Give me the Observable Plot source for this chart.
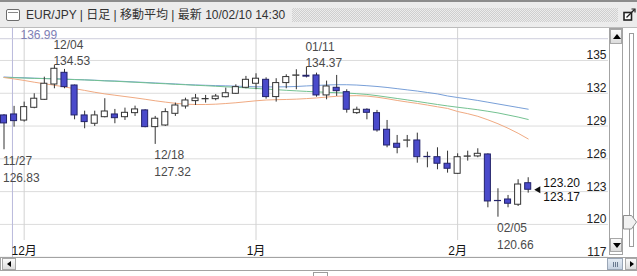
<!DOCTYPE html>
<html><head><meta charset="utf-8">
<script src="https://cdn.jsdelivr.net/npm/d3@7"></script>
<script src="https://cdn.jsdelivr.net/npm/@observablehq/plot@0.6"></script>
<style>
html,body{margin:0;padding:0;background:#fff;}
#wrap{position:relative;width:637px;height:276px;overflow:hidden;background:#fff;font-family:"Liberation Sans","Noto Sans CJK JP",sans-serif;}
#chart{position:absolute;left:0;top:0;}
.abs{position:absolute;box-sizing:border-box;}
#titlebar{left:0;top:0;width:637px;height:28px;background:#ececec;border-top:2px solid #8c8c8c;border-bottom:1px solid #bcbcbc;}
#title{left:26px;top:8px;font-size:12px;line-height:14px;color:#333;white-space:nowrap;}
#icon{left:6px;top:9px;width:14px;height:12px;border:1px solid #6c6c6c;border-radius:2px;background:#fff;}
#icon:after{content:"";position:absolute;left:1px;right:1px;top:2px;height:0;border-top:1px solid #8a8a8a;}
#dots{left:292px;top:8px;width:326px;height:14px;background:repeating-conic-gradient(#cfcfcf 0 25%,#ececec 0 50%) 0 0/2px 2px;}
#vscroll{left:609px;top:28px;width:14px;height:227px;border:1px solid #a3a3a3;background:#fff;}
.btn{background:linear-gradient(#fbfbfb,#dcdcdc);border:1px solid #a8a8a8;}
.tri-up{width:0;height:0;border-left:4px solid transparent;border-right:4px solid transparent;border-bottom:5px solid #000;}
.tri-dn{width:0;height:0;border-left:4px solid transparent;border-right:4px solid transparent;border-top:5px solid #000;}
.tri-l{width:0;height:0;border-top:3px solid transparent;border-bottom:3px solid transparent;border-right:4px solid #000;}
.tri-r{width:0;height:0;border-top:3px solid transparent;border-bottom:3px solid transparent;border-left:4px solid #000;}
#track{left:629px;top:33px;width:5px;height:214px;border:1px solid #9c9c9c;background:#fff;}
#hscroll{left:0;top:257px;width:637px;height:14px;border:1px solid #a3a3a3;background:#fff;}
#thumb{left:607px;top:258px;width:16px;height:12px;background:linear-gradient(#e4ebf4,#c6d2e2);border:1px solid #9aa6b6;}
#thumb i{position:absolute;top:3px;width:1px;height:5px;background:#6a7a90;}
#stub{left:313px;top:272px;width:15px;height:10px;border:1px solid #9c9c9c;}
</style></head>
<body>
<div id="wrap">
  <div id="chart"></div>
  <div id="titlebar" class="abs"></div>
  <div id="icon" class="abs"></div>
  <div id="title" class="abs">EUR/JPY | 日足 | 移動平均 | 最新 10/02/10 14:30</div>
  <div id="dots" class="abs"></div>
  <svg class="abs" style="left:622px;top:7px" width="15" height="15" viewBox="0 0 15 15">
    <rect x="2" y="5.5" width="7.5" height="7.5" fill="#fff" stroke="#222" stroke-width="1.6"/>
    <path d="M4.5 10.5 L12.5 2.5" stroke="#222" stroke-width="1.2"/>
    <path d="M9.5 2 L13 2 L13 5.5" fill="none" stroke="#222" stroke-width="1.2"/>
  </svg>
  <div id="vscroll" class="abs">
    <div class="abs btn" style="left:0;top:0;width:12px;height:15px;"><div class="tri-up" style="position:absolute;left:2px;top:4px"></div></div>
    <div class="abs btn" style="left:0;top:209px;width:12px;height:14px;"><div class="tri-dn" style="position:absolute;left:2px;top:4px"></div></div>
  </div>
  <div id="track" class="abs"></div>
  <svg class="abs" style="left:623px;top:215px" width="14" height="15" viewBox="0 0 14 15">
    <polygon points="0.5,0.5 8.5,0.5 13.5,7 8.5,14 0.5,14" fill="#f1f1f1" stroke="#8e8e8e"/>
  </svg>
  <div id="hscroll" class="abs">
    <div class="abs btn" style="left:1px;top:0;width:14px;height:12px;"><div class="tri-l" style="position:absolute;left:4px;top:2px"></div></div>
    <div class="abs btn" style="left:624px;top:0;width:12px;height:12px;"><div class="tri-r" style="position:absolute;left:4px;top:2px"></div></div>
  </div>
  <div id="thumb" class="abs"><i style="left:5px"></i><i style="left:7px"></i><i style="left:9px"></i></div>
  <div id="stub" class="abs"></div>
</div>
<script>
// ---- data ----
const dates = ["11/27","11/30","12/01","12/02","12/03","12/04","12/07","12/08","12/09","12/10","12/11","12/14","12/15","12/16","12/17","12/18","12/21","12/22","12/23","12/24","12/25","12/28","12/29","12/30","12/31","01/04","01/05","01/06","01/07","01/08","01/11","01/12","01/13","01/14","01/15","01/18","01/19","01/20","01/21","01/22","01/25","01/26","01/27","01/28","01/29","02/01","02/02","02/03","02/04","02/05","02/08","02/09","02/10"];
const open  = [129.97,130.06,129.50,130.67,131.40,132.80,133.87,132.71,129.97,129.21,129.81,130.06,129.81,130.18,130.43,128.90,129.05,130.12,130.79,131.28,131.45,131.46,131.64,131.95,132.50,132.87,133.23,131.65,132.93,133.60,133.60,133.63,131.80,132.50,132.10,130.18,130.49,130.18,128.66,127.38,127.66,127.68,126.18,126.15,125.55,124.63,126.19,126.22,126.40,122.15,122.28,121.80,123.77];
const high  = [130.05,130.80,131.19,131.95,133.47,134.53,134.18,132.75,130.36,130.36,131.50,130.52,130.64,130.82,130.50,129.88,130.58,131.10,131.55,131.89,131.80,131.89,132.47,132.77,133.54,133.78,133.41,133.33,133.69,134.15,134.37,133.84,133.11,133.63,132.32,130.73,130.58,130.43,129.51,128.14,128.14,128.35,126.61,127.01,126.70,126.46,126.70,126.92,126.46,123.26,122.65,124.09,124.27];
const low   = [126.83,128.90,129.36,130.58,131.34,132.41,132.41,129.57,128.75,128.96,129.75,129.21,129.51,129.88,128.84,127.32,128.96,129.88,130.55,130.88,131.10,131.31,131.58,131.89,132.41,132.32,131.46,131.19,132.41,132.32,133.40,131.64,131.40,131.71,130.18,130.06,129.57,128.44,127.01,126.46,127.01,125.60,125.18,125.00,124.69,124.57,125.79,126.10,121.52,120.66,121.52,121.64,122.86];
const close = [129.24,129.45,130.73,131.50,132.87,134.24,132.56,129.97,129.36,129.97,130.33,129.72,130.21,130.52,128.90,129.67,130.27,130.88,131.34,131.52,131.47,131.70,132.00,132.56,133.23,133.33,131.65,132.93,133.48,133.63,133.52,131.80,132.62,132.19,130.49,130.49,130.21,128.60,127.22,127.01,127.68,126.15,126.15,125.55,125.09,126.15,126.22,126.46,122.10,122.13,121.89,123.65,123.17];
// moving averages (short = orange, mid = green, long = blue)
const maShort = [133.44,133.31,133.17,133.01,132.87,132.73,132.58,132.42,132.26,132.09,131.94,131.82,131.70,131.58,131.45,131.31,131.19,131.08,131.00,130.97,130.97,131.00,131.06,131.13,131.22,131.31,131.38,131.41,131.43,131.46,131.51,131.57,131.65,131.72,131.76,131.78,131.74,131.64,131.50,131.34,131.20,131.07,130.92,130.76,130.61,130.33,130.13,129.89,129.57,129.21,128.80,128.34,127.82];
const maMid   = [133.44,133.42,133.39,133.36,133.34,133.31,133.28,133.25,133.22,133.18,133.13,133.10,133.05,133.01,132.96,132.91,132.87,132.82,132.78,132.73,132.69,132.64,132.59,132.55,132.49,132.44,132.38,132.33,132.27,132.22,132.17,132.13,132.09,132.05,132.02,131.96,131.89,131.78,131.65,131.52,131.39,131.25,131.11,130.97,130.84,130.72,130.61,130.49,130.35,130.20,130.01,129.82,129.60];
const maLong  = [133.49,133.44,133.42,133.38,133.35,133.33,133.29,133.26,133.23,133.19,133.15,133.12,133.08,133.03,132.99,132.94,132.90,132.85,132.80,132.76,132.73,132.70,132.68,132.65,132.62,132.59,132.58,132.58,132.59,132.62,132.67,132.71,132.76,132.78,132.78,132.75,132.69,132.62,132.53,132.42,132.31,132.20,132.07,131.94,131.75,131.61,131.48,131.34,131.18,131.02,130.86,130.70,130.54];
const yTicks = [117,120,123,126,129,132,135];
const noteDates  = ["11/27","12/04","12/18","01/11","02/05"];
const notePrices = [126.83,134.53,127.32,134.37,120.66];
const noteSides  = ["low","high","low","high","low"];
const lastAsk = 123.20, lastBid = 123.17;
const cursorPos = 0.84, cursorPrice = 136.99;

// ---- tables ----
const candles = dates.map((d,i)=>({i, date:d, o:open[i], h:high[i], l:low[i], c:close[i]}));
const mas = dates.map((d,i)=>({i, s:maShort[i], m:maMid[i], l:maLong[i]}));
const monthStarts = dates.map((d,i)=> (i>0 && d.slice(0,2)!==dates[i-1].slice(0,2)) ? i : -1).filter(i=>i>=0);
const monthLabels = monthStarts.map(i=> (+dates[i].slice(0,2)) + "月");
const notes = noteDates.map((d,k)=>({i: dates.indexOf(d), date:d, price:notePrices[k], side:noteSides[k]}));
const highs = notes.filter(n=>n.side==="high"), lows = notes.filter(n=>n.side==="low");
const nextSlot = candles.length;
const down = d => d.c < d.o;
const FS = 12;

const chart = Plot.plot({
  width: 609, height: 258,
  marginLeft: 0, marginRight: 1, marginTop: 28, marginBottom: 0,
  style: {background:"transparent", fontFamily:'"Liberation Sans","Noto Sans CJK JP",sans-serif', fontSize:"12px", overflow:"visible"},
  x: {type:"linear", domain:[0, 52], range:[3.5, 527.7], axis:null},
  y: {domain:[117, 137], range:[256.7, 38.1], axis:null},
  marks: [
    Plot.ruleY(yTicks, {stroke:"#dcdcdc"}),
    Plot.ruleX(monthStarts, {stroke:"#d2d2d2", insetBottom:18}),
    Plot.ruleX([cursorPos], {stroke:"#b9b9dc"}),
    Plot.ruleY([cursorPrice], {stroke:"#cfcfdc"}),
    Plot.text([cursorPrice], {x: cursorPos, y: d=>d, text: d=>d.toFixed(2), textAnchor:"start", lineAnchor:"bottom", dx:8, dy:0, fill:"#8080b6", fontSize:FS}),
    Plot.line(mas, {x:"i", y:"l", stroke:"#789fd8", strokeWidth:1}),
    Plot.line(mas, {x:"i", y:"m", stroke:"#74c291", strokeWidth:1}),
    Plot.line(mas, {x:"i", y:"s", stroke:"#f0aa82", strokeWidth:1}),
    Plot.ruleX(candles, {x:"i", y1:"l", y2:"h", stroke:"#333"}),
    Plot.rect(candles, {x1: d=>d.i-0.3, x2: d=>d.i+0.3, y1:"o", y2:"c",
      fill: d=> down(d) ? "#4a4acb" : "#ffffff",
      stroke: d=> down(d) ? "#23236a" : "#333333", strokeWidth:1}),
    Plot.text(highs, {x:"i", y:"price", text:"date", textAnchor:"start", dx:-1, dy:-20, fill:"#4a4a4a", fontSize:FS}),
    Plot.text(highs, {x:"i", y:"price", text: d=>d.price.toFixed(2), textAnchor:"start", dx:-1, dy:-4, fill:"#4a4a4a", fontSize:FS}),
    Plot.text(lows, {x:"i", y:"price", text:"date", textAnchor:"start", dx:-1, dy:11, fill:"#4a4a4a", fontSize:FS}),
    Plot.text(lows, {x:"i", y:"price", text: d=>d.price.toFixed(2), textAnchor:"start", dx:-1, dy:28, fill:"#4a4a4a", fontSize:FS}),
    Plot.text(yTicks, {y: d=>d, text: d=>String(d), frameAnchor:"right", textAnchor:"end", lineAnchor:"bottom", dx:-2, dy:-1, fill:"#222", fontSize:FS}),
    Plot.text(monthStarts, {x: d=>d, text: (d,k)=>monthLabels[k], frameAnchor:"bottom", lineAnchor:"middle", dy:-7, fill:"#111", fontSize:FS}),
    Plot.dot([lastBid], {x: nextSlot, y: d=>d, symbol:"triangle", rotate:-90, r:2.6, fill:"#111", stroke:null}),
    Plot.text([lastAsk], {x: nextSlot, y: ()=>lastBid, text: d=>d.toFixed(2), textAnchor:"start", dx:5, dy:-7, fill:"#111", fontSize:FS}),
    Plot.text([lastBid], {x: nextSlot, y: d=>d, text: d=>d.toFixed(2), textAnchor:"start", dx:5, dy:7, fill:"#111", fontSize:FS})
  ]
});
document.getElementById("chart").appendChild(chart);
</script>
</body></html>
